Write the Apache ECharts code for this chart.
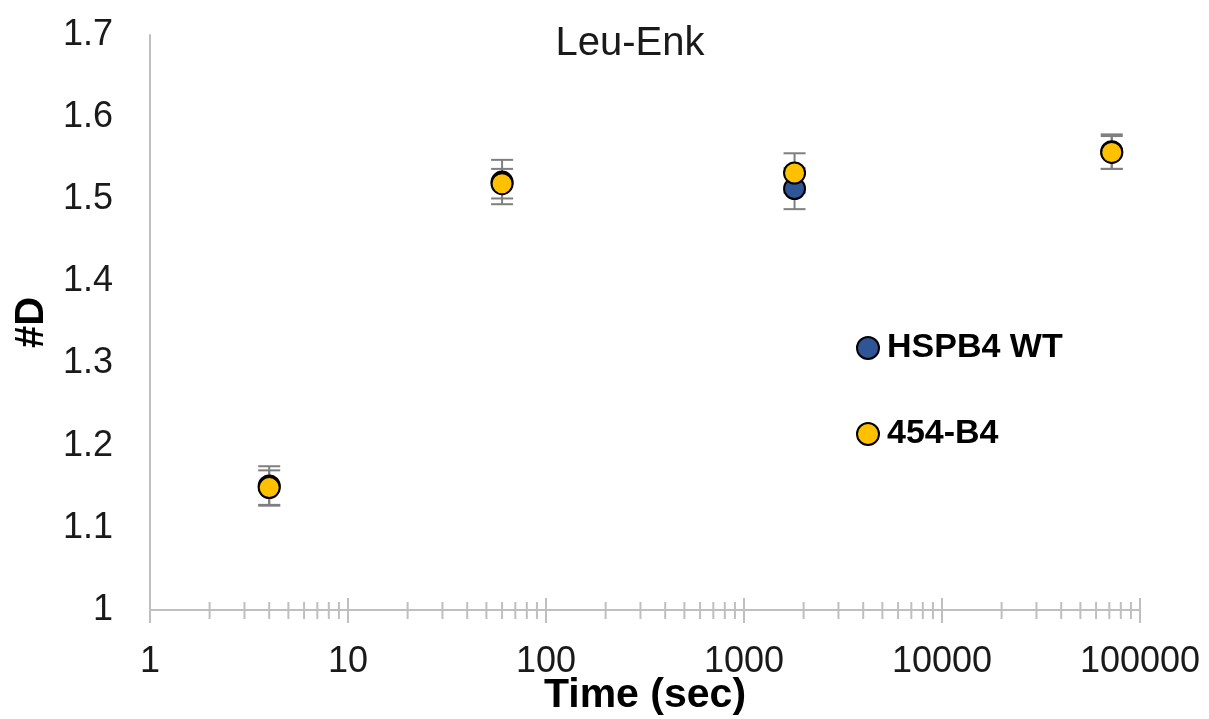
<!DOCTYPE html>
<html>
<head>
<meta charset="utf-8">
<script src="https://cdn.jsdelivr.net/npm/echarts@6/dist/echarts.min.js"></script>
<style>
  html, body { margin: 0; padding: 0; background: #fff; }
  #chart { width: 1209px; height: 719px; }
</style>
</head>
<body>
<div id="chart"></div>
<script>
// Deuteration time points (seconds)
const times = [4, 60, 1800, 72000];

// Mean deuterium uptake and standard deviations per construct
const wtValues = [1.151, 1.521, 1.513, 1.558];
const wtErrors = [0.024, 0.027, 0.025, 0.021];
const b4Values = [1.149, 1.519, 1.532, 1.557];
const b4Errors = [0.021, 0.018, 0.024, 0.020];

const seriesNames = ['HSPB4 WT', '454-B4'];

// Log-axis tick values: decades (major) and 2..9 multiples (minor)
const majorTicks = [1, 10, 100, 1000, 10000, 100000];
const minorTicks = [
  2, 3, 4, 5, 6, 7, 8, 9,
  20, 30, 40, 50, 60, 70, 80, 90,
  200, 300, 400, 500, 600, 700, 800, 900,
  2000, 3000, 4000, 5000, 6000, 7000, 8000, 9000,
  20000, 30000, 40000, 50000, 60000, 70000, 80000, 90000
];

const axisGray = '#bfbfbf';
const font = 'Liberation Sans, Arial, sans-serif';

function errorBarSeries(values, errors) {
  return {
    type: 'custom',
    silent: true,
    z: 1,
    data: times.map((t, i) => [t, values[i] - errors[i], values[i] + errors[i]]),
    renderItem: function (params, api) {
      const lo = api.coord([api.value(0), api.value(1)]);
      const hi = api.coord([api.value(0), api.value(2)]);
      const half = 11;
      const style = { stroke: '#7f7f7f', lineWidth: 2 };
      return {
        type: 'group',
        children: [
          { type: 'line', shape: { x1: lo[0], y1: lo[1], x2: hi[0], y2: hi[1] }, style },
          { type: 'line', shape: { x1: lo[0] - half, y1: lo[1], x2: lo[0] + half, y2: lo[1] }, style },
          { type: 'line', shape: { x1: hi[0] - half, y1: hi[1], x2: hi[0] + half, y2: hi[1] }, style }
        ]
      };
    }
  };
}

function tickSeries(values, up, down) {
  return {
    type: 'custom',
    silent: true,
    clip: false,
    z: 0,
    data: values.map(v => [v, 1]),
    renderItem: function (params, api) {
      const p = api.coord([api.value(0), api.value(1)]);
      return {
        type: 'line',
        shape: { x1: p[0], y1: p[1] - up, x2: p[0], y2: p[1] + down },
        style: { stroke: axisGray, lineWidth: 2 }
      };
    }
  };
}

const chart = echarts.init(document.getElementById('chart'));

chart.setOption({
  backgroundColor: '#ffffff',
  animation: false,
  title: {
    text: 'Leu-Enk',
    left: 625,
    textAlign: 'center',
    top: 19,
    textStyle: { fontFamily: font, fontSize: 40, fontWeight: 'normal', color: '#1a1a1a' }
  },
  legend: {
    orient: 'vertical',
    left: 851,
    top: 326,
    itemWidth: 22,
    itemHeight: 22,
    itemGap: 52,
    data: seriesNames,
    textStyle: {
      fontFamily: font, fontSize: 34, fontWeight: 'bold', color: '#000',
      lineHeight: 34, padding: [0, 0, 0, 3]
    }
  },
  grid: {
    left: 150, right: 69, top: 35, bottom: 109,
    containLabel: false,
    outerBoundsMode: 'none'
  },
  xAxis: {
    type: 'log',
    logBase: 10,
    min: 1,
    max: 100000,
    name: 'Time (sec)',
    nameLocation: 'middle',
    nameGap: 65,
    nameMoveOverlap: false,
    nameTextStyle: { fontFamily: font, fontSize: 41, fontWeight: 'bold', color: '#000' },
    axisLine: { lineStyle: { color: axisGray, width: 2 } },
    axisTick: { show: false },
    splitLine: { show: false },
    axisLabel: {
      margin: 34,
      fontFamily: font,
      fontSize: 36,
      color: '#1a1a1a',
      formatter: v => String(Math.round(v))
    }
  },
  yAxis: {
    type: 'value',
    min: 1,
    max: 1.7,
    interval: 0.1,
    name: '#D',
    nameLocation: 'middle',
    nameGap: 97,
    nameRotate: 90,
    nameTextStyle: { fontFamily: font, fontSize: 40, fontWeight: 'bold', color: '#000' },
    axisLine: { show: true, lineStyle: { color: axisGray, width: 2 } },
    axisTick: { show: false },
    splitLine: { show: false },
    axisLabel: {
      margin: 37,
      fontFamily: font,
      fontSize: 36,
      color: '#1a1a1a',
      formatter: v => String(Math.round(v * 10) / 10)
    }
  },
  series: [
    tickSeries(majorTicks, 12, 13),
    tickSeries(minorTicks, 8, 9),
    errorBarSeries(wtValues, wtErrors),
    errorBarSeries(b4Values, b4Errors),
    {
      name: seriesNames[0],
      type: 'scatter',
      z: 3,
      symbol: 'circle',
      symbolSize: 21,
      itemStyle: { color: '#2f5597', borderColor: '#000', borderWidth: 2, opacity: 1 },
      data: times.map((t, i) => [t, wtValues[i]])
    },
    {
      name: seriesNames[1],
      type: 'scatter',
      z: 4,
      symbol: 'circle',
      symbolSize: 21,
      itemStyle: { color: '#ffc000', borderColor: '#000', borderWidth: 2, opacity: 1 },
      data: times.map((t, i) => [t, b4Values[i]])
    }
  ]
});
</script>
</body>
</html>
